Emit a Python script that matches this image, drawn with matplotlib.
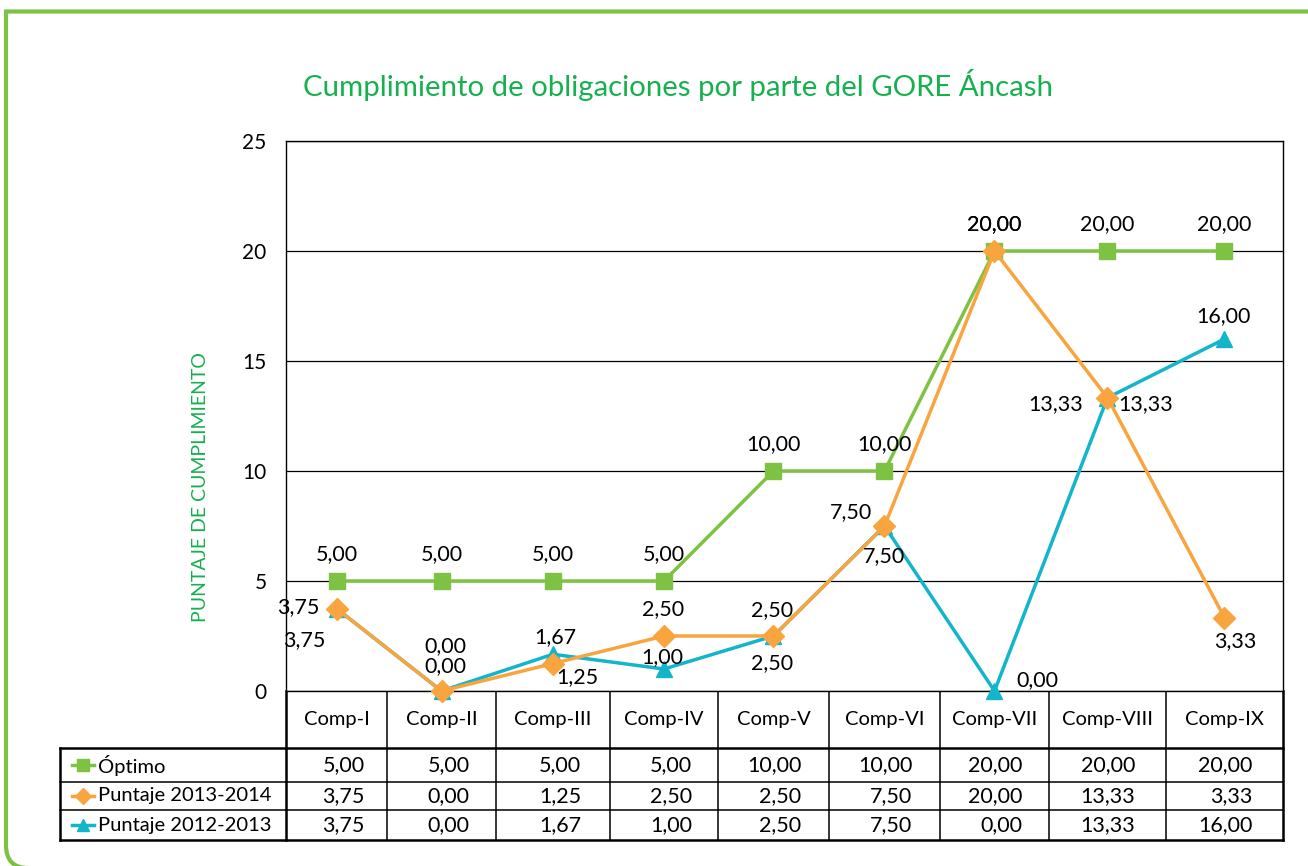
import numpy as np
import matplotlib.pyplot as plt
from matplotlib.path import Path
from matplotlib.patches import PathPatch

plt.rcParams['font.family'] = ['Lato', 'DejaVu Sans']

W, H = 1308, 866

categories = ['Comp-I', 'Comp-II', 'Comp-III', 'Comp-IV', 'Comp-V',
              'Comp-VI', 'Comp-VII', 'Comp-VIII', 'Comp-IX']
series_names = ['Óptimo', 'Puntaje 2013-2014', 'Puntaje 2012-2013']
optimo = [5.00, 5.00, 5.00, 5.00, 10.00, 10.00, 20.00, 20.00, 20.00]
puntaje_2013_2014 = [3.75, 0.00, 1.25, 2.50, 2.50, 7.50, 20.00, 13.33, 3.33]
puntaje_2012_2013 = [3.75, 0.00, 1.67, 1.00, 2.50, 7.50, 0.00, 13.33, 16.00]
y_ticks = [0, 5, 10, 15, 20, 25]

colors = ['#7DC242', '#F9A53F', '#13B5CB']
markers = ['s', 'D', '^']
marker_sizes = [11, 11, 12]
title_green = '#16B04F'

# table column edges, pixels from the left edge of the plot area
col_edges = [0, 101, 210, 324, 432, 543, 654, 763, 880, 997]
xs = [(col_edges[i] + col_edges[i + 1]) / 2 for i in range(len(categories))]

# data label offsets (dx, dy) in pixels, y upwards
label_offsets = [
    [(0, 27)] * 9,
    [(-32, -32), (4, 45), (24, -14), (-1, 27), (-1, 26), (-33, 14), (0, 27), (38, -6), (11, -23)],
    [(-38, 1), (4, 25), (2, 17), (-2, 12), (-1, -27), (0, -30), (43, 11), (-52, -6), (-1, 23)],
]


def fmt(v):
    return f'{v:.2f}'.replace('.', ',')


fig = plt.figure(figsize=(W / 100, H / 100), dpi=100)

# overlay in pixel coordinates for frame and table
ov = fig.add_axes([0, 0, 1, 1])
ov.set_xlim(0, W)
ov.set_ylim(H, 0)
ov.axis('off')

verts = [(W + 10, 11.5), (6, 11.5), (6, 845), (6, 868), (28, 868), (W + 10, 868)]
codes = [Path.MOVETO, Path.LINETO, Path.LINETO, Path.CURVE3, Path.CURVE3, Path.LINETO]
ov.add_patch(PathPatch(Path(verts, codes), fill=False, edgecolor='#7DC242', lw=3))

px0, px1, py0, py1 = 286, 1283, 141, 691
ax = fig.add_axes([px0 / W, 1 - py1 / H, (px1 - px0) / W, (py1 - py0) / H])
ax.set_xlim(0, px1 - px0)
ax.set_ylim(0, 25)
ax.set_yticks(y_ticks)
ax.set_xticks([])
ax.tick_params(axis='y', length=0, pad=14, labelsize=15)
ax.yaxis.grid(True, color='black', lw=0.9)
for s in ax.spines.values():
    s.set_color('black')
    s.set_linewidth(1.0)

fig.text(200 / W, 1 - 487 / H, 'PUNTAJE DE CUMPLIMIENTO', color=title_green, fontsize=14,
         rotation=90, ha='center', va='center')

all_series = [optimo, puntaje_2013_2014, puntaje_2012_2013]
zorders = [3, 5, 4]
for k, vals in enumerate(all_series):
    ax.plot(xs, vals, color=colors[k], lw=2.5, marker=markers[k], ms=marker_sizes[k],
            zorder=zorders[k], clip_on=False)
    for i, v in enumerate(vals):
        dx, dy = label_offsets[k][i]
        ax.annotate(fmt(v), (xs[i], v), xytext=(dx, dy), textcoords='offset pixels',
                    ha='center', va='center', fontsize=15.5, zorder=6)

fig.text(678 / W, 1 - 85 / H, 'Cumplimiento de obligaciones por parte del GORE Áncash',
         ha='center', va='center', color=title_green, fontsize=21.2)

# data table
row_y = [691, 748, 782, 810, 840]
left_x = 60
thin, thick = 1.1, 1.8
for e in col_edges:
    x = px0 + e
    ov.plot([x, x], [row_y[0], row_y[-1]], color='black', lw=thin if 0 < e < col_edges[-1] else thick)
ov.plot([left_x, left_x], [row_y[1], row_y[-1]], color='black', lw=thick)
for j, y in enumerate(row_y[1:]):
    ov.plot([left_x, px1], [y, y], color='black', lw=thick if j in (0, 3) else thin)

for i, c in enumerate(categories):
    ov.text(px0 + xs[i], (row_y[0] + row_y[1]) / 2, c, ha='center', va='center', fontsize=14.5)

for k, vals in enumerate(all_series):
    yc = (row_y[k + 1] + row_y[k + 2]) / 2
    ov.plot([72, 94], [yc, yc], color=colors[k], lw=2.5)
    ov.plot([83], [yc], color=colors[k], marker=markers[k], ms=8, ls='none')
    ov.text(98, yc, series_names[k], ha='left', va='center', fontsize=14.5)
    for i, v in enumerate(vals):
        ov.text(px0 + xs[i] + 28, yc, fmt(v), ha='right', va='center', fontsize=15.5)

fig.savefig('out.png', dpi=100)
